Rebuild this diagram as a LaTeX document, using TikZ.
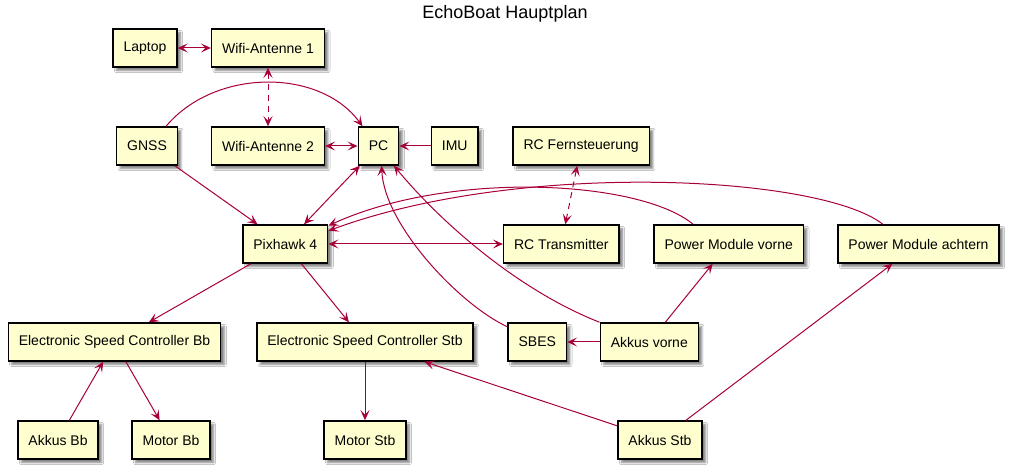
\documentclass[tikz,border=0pt]{standalone}
\usepackage{fontspec}
\setmainfont{Liberation Sans}
\usetikzlibrary{arrows.meta, shadows.blur}
\definecolor{boxfill}{HTML}{FEFECE}
\definecolor{linkred}{HTML}{A80036}
\tikzset{
  part/.style={draw=black, line width=1.5pt, fill=boxfill, minimum height=38pt,
    inner xsep=10.5pt, inner ysep=0pt, font=\fontsize{14pt}{16pt}\selectfont,
    blur shadow={shadow xshift=3.5pt, shadow yshift=-3.5pt, shadow blur steps=5, shadow opacity=50}},
  link/.style={draw=linkred, line width=1pt},
  oneway/.style={-{Stealth[length=10pt,width=9pt,inset=4.5pt]}},
  twoway/.style={{Stealth[length=10pt,width=9pt,inset=4.5pt]}-{Stealth[length=10pt,width=9pt,inset=4.5pt]}},
  radio/.style={dash pattern=on 6pt off 5pt}
}

\begin{document}
\begin{tikzpicture}[x=1pt, y=-1pt]
  \fill[white] (0,0) rectangle (1010,470);
  \useasboundingbox (0,0) rectangle (1010,470);

  \node[font=\fontsize{18pt}{21pt}\selectfont] (title) at (505,14) {EchoBoat Hauptplan};

  % top rows
  \node[part] (laptop) at (145,48) {Laptop};
  \node[part] (wifiA) at (268,48) {Wifi-Antenne 1};
  \node[part] (gnss) at (147,146) {GNSS};
  \node[part] (wifiB) at (268,146) {Wifi-Antenne 2};
  \node[part] (pc) at (378.5,146) {PC};
  \node[part] (imu) at (454.7,146) {IMU};
  \node[part] (rcfern) at (581.2,146) {RC Fernsteuerung};

  % middle row
  \node[part] (pixhawk) at (285.3,244) {Pixhawk 4};
  \node[part] (rctrans) at (561.3,244) {RC Transmitter};
  \node[part] (pmvorne) at (728.7,244) {Power Module vorne};
  \node[part] (pmachtern) at (918.5,244) {Power Module achtern};

  % lower rows
  \node[part] (escbb) at (114.5,342) {Electronic Speed Controller Bb};
  \node[part] (escstb) at (365,342) {Electronic Speed Controller Stb};
  \node[part] (sbes) at (537.3,342) {SBES};
  \node[part] (akkusvorne) at (649.3,342) {Akkus vorne};
  \node[part] (akkusbb) at (58,440) {Akkus Bb};
  \node[part] (motorbb) at (171,440) {Motor Bb};
  \node[part] (motorstb) at (365,440) {Motor Stb};
  \node[part] (akkusstb) at (660,440) {Akkus Stb};

  % connections
  \draw[link,twoway] (laptop) -- (wifiA);
  \draw[link,twoway,radio] (wifiA) -- (wifiB);
  \draw[link,twoway] (wifiB) -- (pc);
  \draw[link,oneway] (imu) -- (pc);
  \draw[link,oneway] (gnss.46) .. controls (215,68) and (320,68) .. (pc.129);
  \draw[link,oneway] (gnss) -- (pixhawk);
  \draw[link,twoway] (pc) -- (pixhawk);
  \draw[link,twoway,radio] (rcfern) -- (rctrans);
  \draw[link,twoway] (pixhawk) -- (rctrans);
  \draw[link,oneway] (pmvorne.151) .. controls (640,180) and (450,170) .. (pixhawk.23);
  \draw[link,oneway] (pmachtern.151) .. controls (820,175) and (520,160) .. (pixhawk.17);
  \draw[link,oneway] (sbes.153) .. controls (460,305) and (384,225) .. (pc.-81);
  \draw[link,oneway] (akkusvorne.north west) .. controls (520,291) and (443,225) .. (pc.-52);
  \draw[link,oneway] (akkusvorne) -- (sbes);
  \draw[link,oneway] (akkusvorne) -- (pmvorne);
  \draw[link,oneway] (pixhawk) -- (escbb);
  \draw[link,oneway] (pixhawk) -- (escstb);
  \draw[link,oneway] (akkusbb) -- (escbb);
  \draw[link,oneway] (escbb) -- (motorbb);
  \draw[link,oneway] (escstb) -- (motorstb);
  \draw[link,oneway] (akkusstb) -- (escstb);
  \draw[link,oneway] (akkusstb) -- (pmachtern);
\end{tikzpicture}
\end{document}
